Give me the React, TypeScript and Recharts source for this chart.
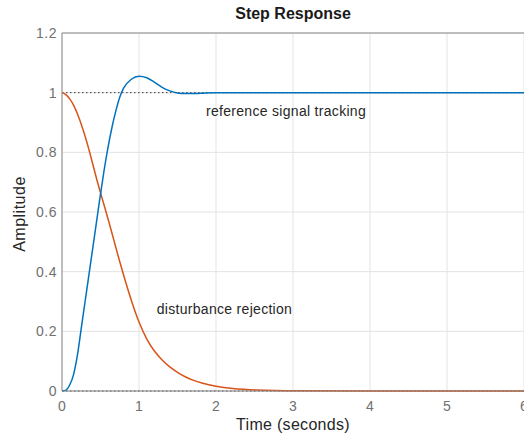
import {
  CartesianGrid,
  Line,
  LineChart,
  ReferenceDot,
  ReferenceLine,
  XAxis,
  YAxis,
} from "recharts"

// time samples (seconds)
const times = [
  0, 0.05, 0.1, 0.15, 0.2, 0.25, 0.3, 0.35, 0.4, 0.45, 0.5, 0.55, 0.6, 0.65, 0.7, 0.75, 0.8,
  0.9, 1.0, 1.1, 1.2, 1.3, 1.4, 1.5, 1.6, 1.7, 1.8, 2.0, 2.2, 2.5, 3, 4, 5, 6,
]

// reference signal tracking (blue)
const tracking = [
  0, 0.003, 0.02, 0.055, 0.12, 0.21, 0.3, 0.39, 0.48, 0.57, 0.66, 0.745, 0.82, 0.885, 0.94,
  0.985, 1.015, 1.045, 1.055, 1.05, 1.035, 1.018, 1.006, 0.999, 0.997, 0.997, 0.998, 1.0, 1.0,
  1.0, 1, 1, 1, 1,
]

// disturbance rejection (orange)
const rejection = [
  1, 0.995, 0.98, 0.96, 0.93, 0.895, 0.855, 0.81, 0.76, 0.71, 0.665, 0.62, 0.575, 0.528, 0.48,
  0.433, 0.388, 0.302, 0.228, 0.172, 0.132, 0.103, 0.08, 0.062, 0.047, 0.036, 0.027, 0.015,
  0.008, 0.003, 0.0005, 0, 0, 0,
]

const xTicks = [0, 1, 2, 3, 4, 5, 6]
const yTicks = [0, 0.2, 0.4, 0.6, 0.8, 1, 1.2]

const data = times.map((t, i) => ({ t, tracking: tracking[i], rejection: rejection[i] }))

const FONT = "'Liberation Sans', Arial, sans-serif"
const AXIS = "#8a8a8a"
const TICK = "#707070"
const INK = "#262626"

const fmtY = (v: number) => (v === 0 || v === 1 ? String(v) : v.toFixed(1))

const noteStyle = {
  position: "right" as const,
  offset: 0,
  fill: INK,
  fontSize: 14,
  fontFamily: FONT,
  letterSpacing: 0.3,
}

export default function App() {
  return (
    <div
      style={{
        position: "absolute",
        left: 0,
        top: 0,
        width: 524,
        height: 439,
        background: "#fff",
        fontFamily: FONT,
        overflow: "hidden",
      }}
    >
      <div
        style={{
          position: "absolute",
          left: 62,
          width: 462,
          top: 5,
          textAlign: "center",
          fontWeight: "bold",
          fontSize: 16,
          color: "#1a1a1a",
        }}
      >
        Step Response
      </div>
      <div
        style={{
          position: "absolute",
          left: 62,
          width: 462,
          top: 416,
          textAlign: "center",
          fontSize: 16,
          letterSpacing: 0.3,
          color: INK,
        }}
      >
        Time (seconds)
      </div>
      <div
        style={{
          position: "absolute",
          left: 20,
          top: 214,
          transform: "translate(-50%, -50%) rotate(-90deg)",
          fontSize: 16,
          letterSpacing: 0.5,
          color: INK,
          whiteSpace: "nowrap",
        }}
      >
        Amplitude
      </div>
      <LineChart
        width={524}
        height={439}
        data={data}
        margin={{ top: 33, right: 0, bottom: 0, left: 0 }}
        style={{ position: "absolute", left: 0, top: 0 }}
      >
        <CartesianGrid stroke="#e3e3e3" strokeWidth={1} />
        <XAxis
          dataKey="t"
          type="number"
          domain={[0, 6]}
          ticks={xTicks}
          height={48}
          tickLine={false}
          tickSize={6}
          tickMargin={4}
          axisLine={{ stroke: AXIS }}
          tick={{ fill: TICK, fontSize: 14, fontFamily: FONT }}
          interval={0}
        />
        <YAxis
          type="number"
          domain={[0, 1.2]}
          ticks={yTicks}
          width={62}
          tickLine={false}
          tickSize={5}
          tickMargin={0}
          axisLine={{ stroke: AXIS }}
          tick={{ fill: TICK, fontSize: 14, fontFamily: FONT, letterSpacing: 0.5 }}
          tickFormatter={fmtY}
          interval={0}
        />
        <ReferenceLine y={1.2} stroke={AXIS} />
        <ReferenceLine y={1} stroke="#3a3a3a" strokeDasharray="1.5 2.5" />
        <ReferenceLine y={0} stroke="#3a3a3a" strokeDasharray="1.5 2.5" />
        <Line
          type="basis"
          dataKey="rejection"
          stroke="#D95319"
          strokeWidth={1.5}
          dot={false}
          isAnimationActive={false}
        />
        <Line
          type="monotone"
          dataKey="tracking"
          stroke="#0072BD"
          strokeWidth={1.5}
          dot={false}
          isAnimationActive={false}
        />
        <ReferenceDot
          x={1.87}
          y={0.939}
          r={0.01}
          fill="none"
          stroke="none"
          label={{ value: "reference signal tracking", ...noteStyle }}
        />
        <ReferenceDot
          x={1.23}
          y={0.275}
          r={0.01}
          fill="none"
          stroke="none"
          label={{ value: "disturbance rejection", ...noteStyle }}
        />
      </LineChart>
    </div>
  )
}
